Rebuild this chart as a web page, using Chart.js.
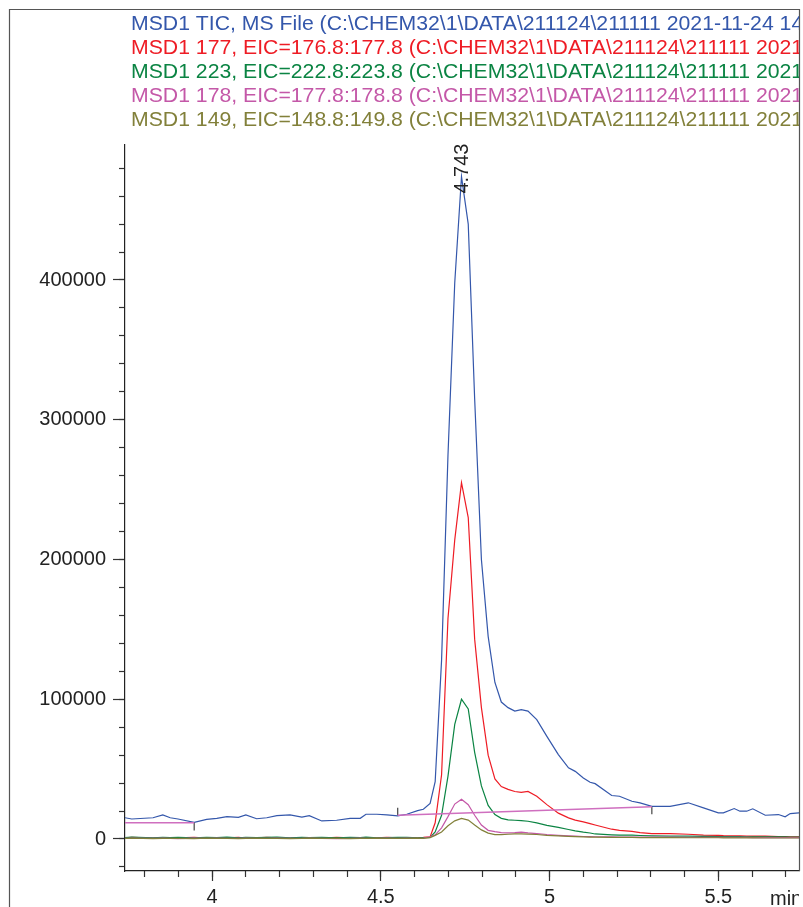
<!DOCTYPE html>
<html>
<head>
<meta charset="utf-8">
<script src="https://cdn.jsdelivr.net/npm/chart.js@4.4.1/dist/chart.umd.min.js"></script>
<style>
  html, body { margin: 0; padding: 0; background: #fff; }
  canvas { display: block; }
</style>
</head>
<body>
<canvas id="chrom" width="803" height="907"></canvas>
<script>
// retention times (min), shared by all traces
const times = [
  3.742, 3.762, 3.825, 3.854, 3.876, 3.899, 3.947, 3.984, 4.014, 4.044,
  4.078, 4.100, 4.132, 4.162, 4.192, 4.231, 4.266, 4.288, 4.325, 4.369,
  4.409, 4.439, 4.456, 4.488, 4.518, 4.550, 4.577, 4.609, 4.626, 4.646,
  4.661, 4.680, 4.699, 4.719, 4.739, 4.759, 4.778, 4.798, 4.818, 4.838,
  4.857, 4.877, 4.897, 4.916, 4.936, 4.962, 4.992, 5.026, 5.056, 5.076,
  5.100, 5.120, 5.135, 5.184, 5.207, 5.244, 5.268, 5.303, 5.357, 5.411,
  5.456, 5.500, 5.515, 5.547, 5.564, 5.584, 5.602, 5.639, 5.678, 5.698,
  5.713, 5.739
];

const tic = [
  15200, 14300, 15200, 17200, 15200, 14300, 11900, 14100, 14800, 16000,
  15500, 17200, 14500, 15200, 16700, 17200, 15700, 16700, 12900, 13400,
  14800, 14800, 17700, 17700, 17200, 16500, 17700, 20300, 21300, 25500,
  41000, 128000, 275000, 398000, 474000, 440000, 315000, 200000, 145000, 112000,
  98000, 94000, 91500, 92500, 91500, 85400, 73400, 60400, 50900, 48400,
  43700, 40600, 39600, 31100, 30600, 27000, 25900, 23400, 23400, 25900,
  22300, 18700, 18700, 21800, 19900, 19900, 21600, 17000, 17500, 15900,
  18200, 18700
];

const eic177 = [
  800, 1100, 700, 1000, 600, 900, 1200, 700, 1000, 800,
  1100, 600, 900, 1200, 800, 700, 1000, 900, 600, 1100,
  800, 1000, 700, 900, 1200, 800, 1000, 900, 1100, 1500,
  11600, 46000, 158000, 214000, 255000, 230000, 143000, 94000, 60000, 43000,
  37500, 35500, 34000, 33400, 34000, 30600, 24600, 18500, 15100, 13500,
  12300, 11000, 10000, 7000, 6200, 5400, 4500, 3900, 3900, 3400,
  2800, 2600, 2400, 2300, 2200, 2100, 2000, 2000, 1800, 1700,
  1600, 1500
];

const eic223 = [
  1000, 1300, 900, 1200, 1000, 1100, 800, 1200, 1000, 1300,
  900, 1100, 1000, 1200, 1300, 900, 1100, 1000, 1200, 800,
  1100, 1000, 1300, 900, 1000, 1200, 1100, 900, 1000, 1200,
  5000, 17000, 45000, 82000, 100000, 93000, 62000, 38000, 24000, 17500,
  14800, 13700, 13400, 13200, 12700, 11500, 9800, 8300, 6800, 5800,
  4900, 4300, 3600, 3000, 2800, 2700, 2500, 2300, 2100, 2000,
  1900, 1800, 1800, 1700, 1700, 1600, 1600, 1500, 1500, 1500,
  1400, 1400
];

const eic178 = [
  500, 700, 400, 600, 500, 300, 600, 500, 700, 400,
  500, 600, 400, 500, 700, 500, 400, 600, 500, 300,
  500, 600, 400, 500, 700, 500, 600, 500, 700, 1600,
  3000, 8000, 16000, 25000, 28500, 24500, 17000, 10000, 6200, 5300,
  4600, 4400, 4600, 4900, 4400, 3900, 3200, 2600, 2200, 2000,
  1800, 1700, 1600, 1500, 1400, 1400, 1300, 1300, 1300, 1200,
  1200, 1200, 1100, 1100, 1100, 1100, 1000, 1000, 1000, 1000,
  1000, 1000
];

const eic149 = [
  400, 600, 300, 500, 400, 500, 300, 600, 400, 500,
  300, 500, 600, 400, 500, 300, 400, 600, 500, 400,
  300, 500, 400, 600, 400, 500, 400, 600, 500, 1000,
  2600, 5000, 9500, 13000, 14800, 13500, 10000, 6500, 4200, 3200,
  3200, 3400, 3600, 3700, 3500, 3200, 2600, 2200, 1900, 1700,
  1500, 1400, 1300, 1200, 1100, 1100, 1000, 1000, 1000, 900,
  900, 900, 800, 800, 800, 800, 800, 700, 700, 700,
  700, 700
];

// integration baselines of the 178 trace and their end marks
const baseTimes = [3.742, 3.947, null, 4.550, 5.303];
const baseValues = [11600, 11600, null, 17000, 23100];
const markTimes = [3.947, 4.550, 5.303];
const markFrom = [11600, 17000, 23100];
const markTo = [6000, 22400, 17700];

const peakTimes = [4.743];
const peakHeights = [474000];

const legendTexts = [
  'MSD1 TIC, MS File (C:\\CHEM32\\1\\DATA\\211124\\211111 2021-11-24 14',
  'MSD1 177, EIC=176.8:177.8 (C:\\CHEM32\\1\\DATA\\211124\\211111 2021',
  'MSD1 223, EIC=222.8:223.8 (C:\\CHEM32\\1\\DATA\\211124\\211111 2021',
  'MSD1 178, EIC=177.8:178.8 (C:\\CHEM32\\1\\DATA\\211124\\211111 2021',
  'MSD1 149, EIC=148.8:149.8 (C:\\CHEM32\\1\\DATA\\211124\\211111 2021'
];
const colors = ['#3457ab', '#ee1c25', '#0b8443', '#c458a8', '#82803a'];

const xMajorTicks = [4, 4.5, 5, 5.5];
const xMinorTicks = [3.8, 3.9, 4, 4.1, 4.2, 4.3, 4.4, 4.5, 4.6, 4.7, 4.8, 4.9,
  5, 5.1, 5.2, 5.3, 5.4, 5.5, 5.6, 5.7];
const yMajorTicks = [0, 100000, 200000, 300000, 400000];
const yMinorTicks = [-20000, 0, 20000, 40000, 60000, 80000, 100000, 120000, 140000,
  160000, 180000, 200000, 220000, 240000, 260000, 280000, 300000, 320000, 340000,
  360000, 380000, 400000, 420000, 440000, 460000, 480000];

const FONT = '"Liberation Sans", Arial, sans-serif';

function pairs(xs, ys) {
  return xs.map((t, i) => ({x: t === null ? NaN : t, y: ys[i]}));
}

function trace(values, color, order) {
  return {
    data: pairs(times, values),
    borderColor: color,
    borderWidth: 1.2,
    pointRadius: 0,
    tension: 0,
    fill: false,
    order: order
  };
}

let markData = [];
markTimes.forEach((t, i) => {
  markData.push({x: t, y: markFrom[i]}, {x: t, y: markTo[i]}, {x: t, y: null});
});

const decor = {
  id: 'decor',
  afterDraw(chart) {
    const ctx = chart.ctx;
    const xs = chart.scales.x;
    const ys = chart.scales.y;
    ctx.save();

    // outer frame
    ctx.strokeStyle = '#555';
    ctx.lineWidth = 1.2;
    ctx.beginPath();
    ctx.moveTo(9.5, 907);
    ctx.lineTo(9.5, 9.5);
    ctx.lineTo(799.5, 9.5);
    ctx.lineTo(799.5, chart.chartArea.bottom);
    ctx.stroke();

    // trace titles, slightly wide like the original print
    ctx.save();
    ctx.beginPath();
    ctx.rect(0, 0, 799, 140);
    ctx.clip();
    ctx.translate(131, 0);
    ctx.scale(1.035, 1);
    ctx.font = '20.5px ' + FONT;
    ctx.textAlign = 'left';
    ctx.textBaseline = 'alphabetic';
    legendTexts.forEach((txt, i) => {
      ctx.fillStyle = colors[i];
      ctx.fillText(txt, 0, 30 + i * 23.9);
    });
    ctx.restore();

    // peak retention time labels
    ctx.fillStyle = '#222';
    ctx.font = '20px ' + FONT;
    peakTimes.forEach((t, i) => {
      ctx.save();
      ctx.translate(xs.getPixelForValue(t), ys.getPixelForValue(peakHeights[i]) + 17);
      ctx.rotate(-Math.PI / 2);
      ctx.textAlign = 'left';
      ctx.textBaseline = 'middle';
      ctx.fillText(t.toFixed(3), 0, 0);
      ctx.restore();
    });

    // unit label
    ctx.save();
    ctx.beginPath();
    ctx.rect(0, 875, 799, 32);
    ctx.clip();
    ctx.textAlign = 'left';
    ctx.textBaseline = 'alphabetic';
    ctx.fillText('min', 770, 905);
    ctx.restore();

    ctx.restore();
  }
};

const tickFont = {family: FONT, size: 20};

new Chart(document.getElementById('chrom'), {
  type: 'line',
  data: {
    datasets: [
      {data: pairs(baseTimes, baseValues), borderColor: '#cf6fbf', borderWidth: 1.4,
        pointRadius: 0, spanGaps: false, order: 0},
      {data: markData, borderColor: '#444', borderWidth: 1.2, pointRadius: 0,
        spanGaps: false, order: 0},
      trace(eic149, colors[4], 1),
      trace(eic178, colors[3], 2),
      trace(eic223, colors[2], 3),
      trace(eic177, colors[1], 4),
      trace(tic, colors[0], 5)
    ]
  },
  options: {
    responsive: false,
    animation: false,
    events: [],
    layout: {padding: {left: 0, right: 4, top: 145, bottom: 0}},
    plugins: {legend: {display: false}, tooltip: {enabled: false}},
    scales: {
      x: {
        type: 'linear', position: 'bottom', weight: 1,
        min: 3.742, max: 5.739,
        afterBuildTicks: s => { s.ticks = xMajorTicks.map(v => ({value: v})); },
        afterFit: s => { s.height = 36; },
        grid: {drawOnChartArea: false, drawTicks: true, tickLength: 10, tickColor: '#333', tickWidth: 1.2},
        border: {display: true, color: '#222', width: 1.2},
        ticks: {font: tickFont, color: '#222', padding: 4, autoSkip: false, maxRotation: 0,
          callback: v => String(v)}
      },
      xMinor: {
        type: 'linear', position: 'bottom', weight: 0,
        min: 3.742, max: 5.739,
        afterBuildTicks: s => { s.ticks = xMinorTicks.map(v => ({value: v})); },
        afterFit: s => { s.height = 0; },
        grid: {drawOnChartArea: false, drawTicks: true, tickLength: 6, tickColor: '#333', tickWidth: 1.2},
        border: {display: false},
        ticks: {display: false}
      },
      y: {
        type: 'linear', position: 'left', weight: 1,
        min: -22900, max: 496600,
        afterBuildTicks: s => { s.ticks = yMajorTicks.map(v => ({value: v})); },
        afterFit: s => { s.width = 125; },
        grid: {drawOnChartArea: false, drawTicks: true, tickLength: 12, tickColor: '#333', tickWidth: 1.2},
        border: {display: true, color: '#222', width: 1.2},
        ticks: {font: tickFont, color: '#222', padding: 7, autoSkip: false,
          callback: v => String(v)}
      },
      yMinor: {
        type: 'linear', position: 'left', weight: 0,
        min: -22900, max: 496600,
        afterBuildTicks: s => { s.ticks = yMinorTicks.map(v => ({value: v})); },
        afterFit: s => { s.width = 0; },
        grid: {drawOnChartArea: false, drawTicks: true, tickLength: 6, tickColor: '#333', tickWidth: 1.2},
        border: {display: false},
        ticks: {display: false}
      }
    }
  },
  plugins: [decor]
});
</script>
</body>
</html>
